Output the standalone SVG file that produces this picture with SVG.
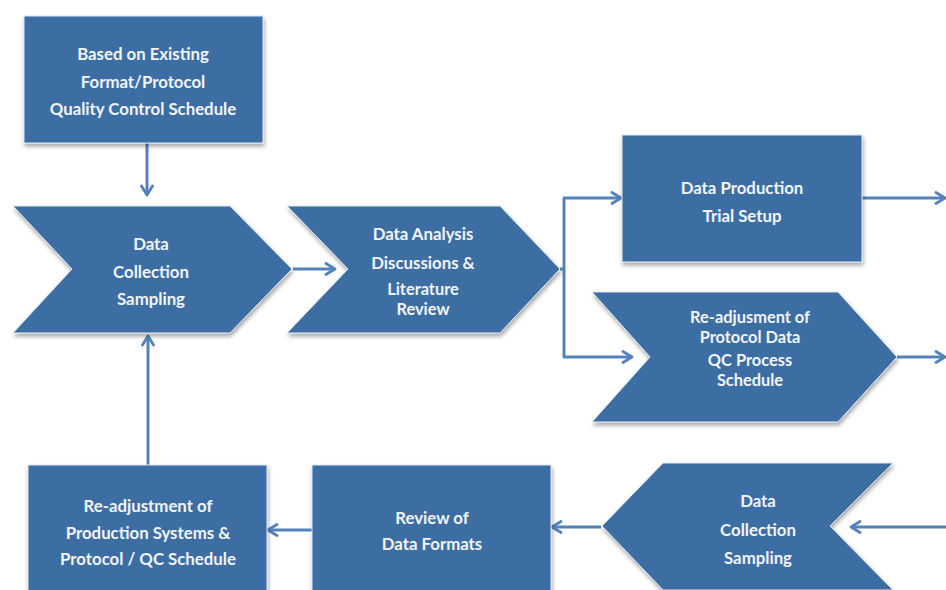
<svg xmlns="http://www.w3.org/2000/svg" width="946" height="590" viewBox="0 0 946 590">
  <defs>
    <filter id="shadow" x="-10%" y="-10%" width="125%" height="130%">
      <feGaussianBlur in="SourceAlpha" stdDeviation="2"/>
      <feOffset dx="1" dy="3" result="b"/>
      <feComponentTransfer><feFuncA type="linear" slope="0.35"/></feComponentTransfer>
      <feMerge><feMergeNode/><feMergeNode in="SourceGraphic"/></feMerge>
    </filter>
    <marker id="arrow" viewBox="0 0 14 14" refX="12" refY="7" markerWidth="14" markerHeight="14" markerUnits="userSpaceOnUse" orient="auto">
      <path d="M3,1.5 L12,7 L3,12.5" fill="none" stroke="#5382bb" stroke-width="2.8" stroke-linecap="round" stroke-linejoin="round"/>
    </marker>
  </defs>
  <style>
    .shape { fill: #3e6ea3; stroke: #dfe8f2; stroke-width: 1; filter: url(#shadow); }
    .label { font-family: Lato, "Liberation Sans", sans-serif; font-weight: bold; font-size: 16.8px; fill: #f2f5f9; text-anchor: middle; dominant-baseline: central; }
    .tight { font-size: 16.4px; }
    .conn { fill: none; stroke: #5382bb; stroke-width: 3; marker-end: url(#arrow); }
    .line { fill: none; stroke: #5382bb; stroke-width: 3; }
  </style>
  <rect width="946" height="590" fill="#ffffff"/>

  <g id="connectors">
    <line class="conn" x1="147" y1="143" x2="147" y2="195"/>
    <line class="conn" x1="148" y1="465" x2="148" y2="336"/>
    <line class="conn" x1="293" y1="269" x2="335" y2="269"/>
    <line class="line" x1="560" y1="269" x2="564" y2="269"/>
    <line class="line" x1="564" y1="198" x2="564" y2="357"/>
    <line class="conn" x1="563" y1="198" x2="621" y2="198"/>
    <line class="conn" x1="563" y1="357" x2="632" y2="357"/>
    <line class="conn" x1="862" y1="198" x2="945" y2="198"/>
    <line class="conn" x1="897" y1="357" x2="945" y2="357"/>
    <line class="conn" x1="946" y1="527" x2="851" y2="527"/>
    <line class="conn" x1="601" y1="527" x2="552" y2="527"/>
    <line class="conn" x1="312" y1="530" x2="268" y2="530"/>
  </g>

  <g id="node-existing-format">
    <rect class="shape" x="24" y="16" width="239" height="127"/>
    <text class="label" x="143" y="53">Based on Existing</text>
    <text class="label" x="143" y="81">Format/Protocol</text>
    <text class="label" x="143" y="108">Quality Control Schedule</text>
  </g>

  <g id="node-data-collection-1">
    <polygon class="shape" points="13,206 230,206 292,269 230,333 13,333 72,269"/>
    <text class="label" x="151" y="243">Data</text>
    <text class="label" x="151" y="271">Collection</text>
    <text class="label" x="151" y="298">Sampling</text>
  </g>

  <g id="node-data-analysis">
    <polygon class="shape" points="287,206 500,206 560,269 500,333 287,333 348,269"/>
    <text class="label" x="423" y="233">Data Analysis</text>
    <text class="label" x="423" y="262">Discussions &amp;</text>
    <text class="label tight" x="423" y="288">Literature</text>
    <text class="label tight" x="423" y="308">Review</text>
  </g>

  <g id="node-data-production">
    <rect class="shape" x="622" y="135" width="240" height="127"/>
    <text class="label" x="742" y="187">Data Production</text>
    <text class="label" x="742" y="215">Trial Setup</text>
  </g>

  <g id="node-readjust-protocol">
    <polygon class="shape" points="592,292 838,292 897,357 838,422 592,422 650,357"/>
    <text class="label tight" x="750" y="316">Re-adjusment of</text>
    <text class="label tight" x="750" y="336">Protocol Data</text>
    <text class="label tight" x="750" y="359">QC Process</text>
    <text class="label tight" x="750" y="379">Schedule</text>
  </g>

  <g id="node-data-collection-2">
    <polygon class="shape" points="663,463 893,463 830,526 893,590 663,590 602,526"/>
    <text class="label" x="758" y="500">Data</text>
    <text class="label" x="758" y="529">Collection</text>
    <text class="label" x="758" y="557">Sampling</text>
  </g>

  <g id="node-review-formats">
    <rect class="shape" x="312" y="465" width="239" height="135"/>
    <text class="label" x="432" y="517">Review of</text>
    <text class="label" x="432" y="543">Data Formats</text>
  </g>

  <g id="node-readjust-production">
    <rect class="shape" x="28" y="465" width="239" height="135"/>
    <text class="label" x="148" y="505">Re-adjustment of</text>
    <text class="label" x="148" y="532">Production Systems &amp;</text>
    <text class="label" x="148" y="558">Protocol / QC Schedule</text>
  </g>
</svg>
